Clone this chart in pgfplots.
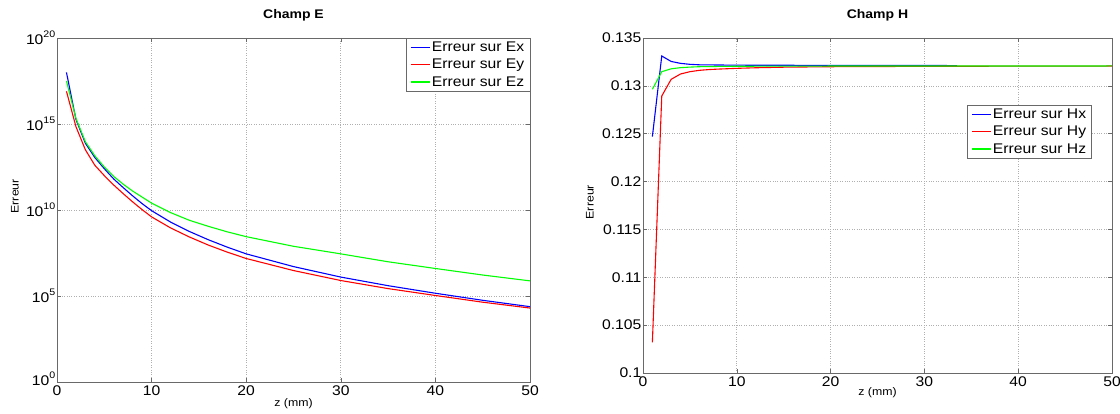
\documentclass[border=0pt]{standalone}
\usepackage{fontspec}
\setmainfont[FakeStretch=1.12]{Liberation Sans}
\usepackage{pgfplots}
\pgfplotsset{compat=1.18}
\definecolor{axgray}{RGB}{105,105,105}
\definecolor{gridgray}{RGB}{175,175,175}
\definecolor{mblue}{RGB}{0,0,255}
\definecolor{mred}{RGB}{255,0,0}
\definecolor{mgreen}{RGB}{0,255,0}
\newcommand{\tp}[1]{10\raisebox{7pt}{\fontsize{9.5}{9.5}\selectfont #1}}
\pgfplotsset{
 mstyle/.style={
  scale only axis, anchor=south west,
  xmin=0, xmax=50, xtick={0,10,20,30,40,50},
  grid=major, grid style={dotted, gridgray, line width=0.7pt},
  axis line style={axgray, line width=0.8pt},
  tick style={axgray, line width=0.6pt},
  tick align=inside, major tick length=4pt,
  ticklabel style={font=\fontsize{14}{14}\selectfont, black},
  /pgf/number format/assume math mode=true,
  yticklabel style={inner xsep=1.5pt},
  label style={font=\fontsize{11}{11}\selectfont},
  title style={font=\bfseries\fontsize{12.5}{13}\selectfont, anchor=center, yshift=17pt},
  legend style={draw=axgray, fill=white, inner xsep=4pt, inner ysep=1pt,
     row sep=0pt, nodes={inner xsep=1.5pt, inner ysep=3pt, font=\fontsize{14}{14}\selectfont}},
  legend cell align=left,
  legend image code/.code={\draw[mark repeat=2,mark phase=2,#1] plot coordinates {(0pt,0pt) (9.5pt,0pt) (19pt,0pt)};},
  every axis plot/.append style={line width=1.1pt},
 }
}
\begin{document}
\begin{tikzpicture}[x=1pt,y=1pt]
\path[use as bounding box] (0,0) rectangle (1120,413);
\begin{axis}[mstyle, at={(57pt,31pt)}, width=473pt, height=344pt,
  ymode=log, ymin=1, ymax=1e20, ytick={1,1e5,1e10,1e15,1e20},
  yticklabels={\raisebox{6pt}{\tp{0}},\tp{5},\tp{10},\tp{15},\tp{20}},
  title={Champ E},
  xlabel={z (mm)}, xlabel style={at={(axis description cs:0.5,0)}, anchor=center, yshift=-22pt},
  ylabel={Erreur}, ylabel style={at={(axis description cs:-0.089,0.54)}, anchor=center},
  legend style={at={(1,1)}, anchor=north east}]
\addplot[color=mblue] coordinates {(1,1.000e18) (2,1.862e15) (3,7.586e13) (4,1.122e13) (5,2.512e12) (6,6.310e11) (7,1.995e11) (8,6.607e10) (9,2.344e10) (10,9.120e9) (12,1.995e9) (14,5.623e8) (16,1.862e8) (18,6.918e7) (20,2.818e7) (25,5.129e6) (30,1.259e6) (35,3.981e5) (40,1.445e5) (45,5.623e4) (50,2.399e4)};
\addlegendentry{Erreur sur Ex}
\addplot[color=mred] coordinates {(1,7.943e16) (2,7.079e14) (3,3.162e13) (4,3.981e12) (5,1.000e12) (6,2.818e11) (7,8.913e10) (8,2.951e10) (9,1.047e10) (10,3.981e9) (12,9.120e8) (14,2.692e8) (16,9.120e7) (18,3.548e7) (20,1.514e7) (25,3.020e6) (30,7.943e5) (35,2.692e5) (40,1.072e5) (45,4.365e4) (50,1.995e4)};
\addlegendentry{Erreur sur Ey}
\addplot[color=mgreen] coordinates {(1,3.162e17) (2,2.138e15) (3,9.333e13) (4,1.413e13) (5,3.162e12) (6,8.913e11) (7,3.162e11) (8,1.259e11) (9,5.623e10) (10,2.512e10) (12,7.079e9) (14,2.512e9) (16,1.122e9) (18,5.370e8) (20,2.818e8) (25,7.762e7) (30,2.818e7) (35,9.772e6) (40,3.981e6) (45,1.660e6) (50,7.586e5)};
\addlegendentry{Erreur sur Ez}
\end{axis}
\begin{axis}[mstyle, at={(643pt,40pt)}, width=469pt, height=335pt,
  ymin=0.1, ymax=0.135, ytick={0.1,0.105,0.11,0.115,0.12,0.125,0.13,0.135},
  yticklabels={0.1,0.105,0.11,0.115,0.12,0.125,0.13,0.135},
  title={Champ H},
  xlabel={z (mm)}, xlabel style={at={(axis description cs:0.5,0)}, anchor=center, yshift=-20pt},
  ylabel={Erreur}, ylabel style={at={(axis description cs:-0.113,0.51)}, anchor=center},
  legend style={at={(0.957,0.8)}, anchor=north east}]
\addplot[color=mblue] coordinates {(1,0.1247) (2,0.13312) (3,0.13255) (4,0.13235) (5,0.13225) (6,0.1322) (8,0.13218) (10,0.13216) (20,0.13214) (33.5,0.13212)};
\addlegendentry{Erreur sur Hx}
\addplot[color=mred] coordinates {(1,0.1032) (2,0.12894) (3,0.13068) (4,0.13124) (5,0.13148) (6,0.13162) (7,0.1317) (8,0.13175) (10,0.13183) (12,0.13189) (15,0.13195) (20,0.132) (30,0.13204) (40,0.13206) (50,0.13207)};
\addlegendentry{Erreur sur Hy}
\addplot[color=mgreen] coordinates {(1,0.12964) (2,0.13148) (3,0.13178) (4,0.1319) (5,0.13196) (6,0.132) (8,0.13203) (10,0.13205) (20,0.13207) (50,0.13208)};
\addlegendentry{Erreur sur Hz}
\end{axis}
\end{tikzpicture}
\end{document}
